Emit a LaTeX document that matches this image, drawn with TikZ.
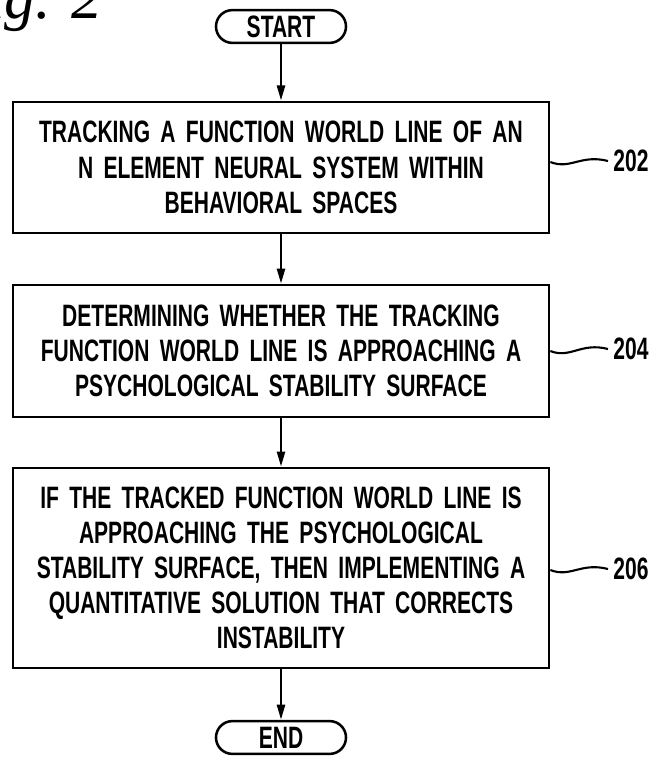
\documentclass[tikz,border=0pt]{standalone}
\usepackage{fontspec}
\setmainfont{Liberation Sans}
\newfontfamily\boxfont[FakeStretch=0.68,WordSpace=1.5]{Liberation Sans Bold}
\newfontfamily\figfont{Liberation Serif}
\usetikzlibrary{arrows.meta}

\begin{document}
\begin{tikzpicture}
[x=0.025cm,y=-0.025cm, % 1 unit = 1 pixel
line width=1.8pt,
term/.style={draw,rounded corners=0.41cm,minimum width=3.25cm,minimum height=0.82cm,inner sep=0pt,font=\boxfont\fontsize{22}{24}\selectfont}, % start / end
stepbox/.style={draw,minimum width=13.4cm,text width=13.2cm,align=center,inner sep=0pt,font=\boxfont\fontsize{22}{25}\selectfont}, % steps
flow/.style={-{Triangle[length=0.38cm,width=0.2cm]}}, % arrows
refnum/.style={anchor=west,inner sep=3pt,font=\boxfont\fontsize{22}{24}\selectfont}, % reference numbers
squig/.style={line width=1.5pt} % leader lines
]
\clip (0,0) rectangle (656,763);
\node[anchor=base east,inner sep=0pt,font=\figfont\itshape\fontsize{44}{44}\selectfont] (fig) at (104,19) {Fig. 2};
% flow chart
\node[term] (start) at (281,26.5) {START};
\node[stepbox,minimum height=3.28cm] (s202) at (281,167.5) {TRACKING A FUNCTION WORLD LINE OF AN\\ N ELEMENT NEURAL SYSTEM WITHIN\\ BEHAVIORAL SPACES};
\node[stepbox,minimum height=3.3cm] (s204) at (281,351) {DETERMINING WHETHER THE TRACKING\\ FUNCTION WORLD LINE IS APPROACHING A\\ PSYCHOLOGICAL STABILITY SURFACE};
\node[stepbox,minimum height=5cm] (s206) at (281,568) {IF THE TRACKED FUNCTION WORLD LINE IS\\ APPROACHING THE PSYCHOLOGICAL\\ STABILITY SURFACE, THEN IMPLEMENTING A\\ QUANTITATIVE SOLUTION THAT CORRECTS\\ INSTABILITY};
\node[term] (end) at (281,737.5) {END};
\draw[flow] (start) -- (s202);
\draw[flow] (s202) -- (s204);
\draw[flow] (s204) -- (s206);
\draw[flow] (s206) -- (end);
% reference numbers
\node[refnum] (r202) at (608,161) {202};
\node[refnum] (r204) at (608,349) {204};
\node[refnum] (r206) at (608,569) {206};
\draw[squig] (s202.east |- 0,162) .. controls +(20,8) and +(-27,-7) .. (r202.west);
\draw[squig] (s204.east |- 0,351) .. controls +(20,8) and +(-27,-7) .. (r204.west);
\draw[squig] (s206.east |- 0,570) .. controls +(20,8) and +(-27,-7) .. (r206.west);
\end{tikzpicture}
\end{document}
